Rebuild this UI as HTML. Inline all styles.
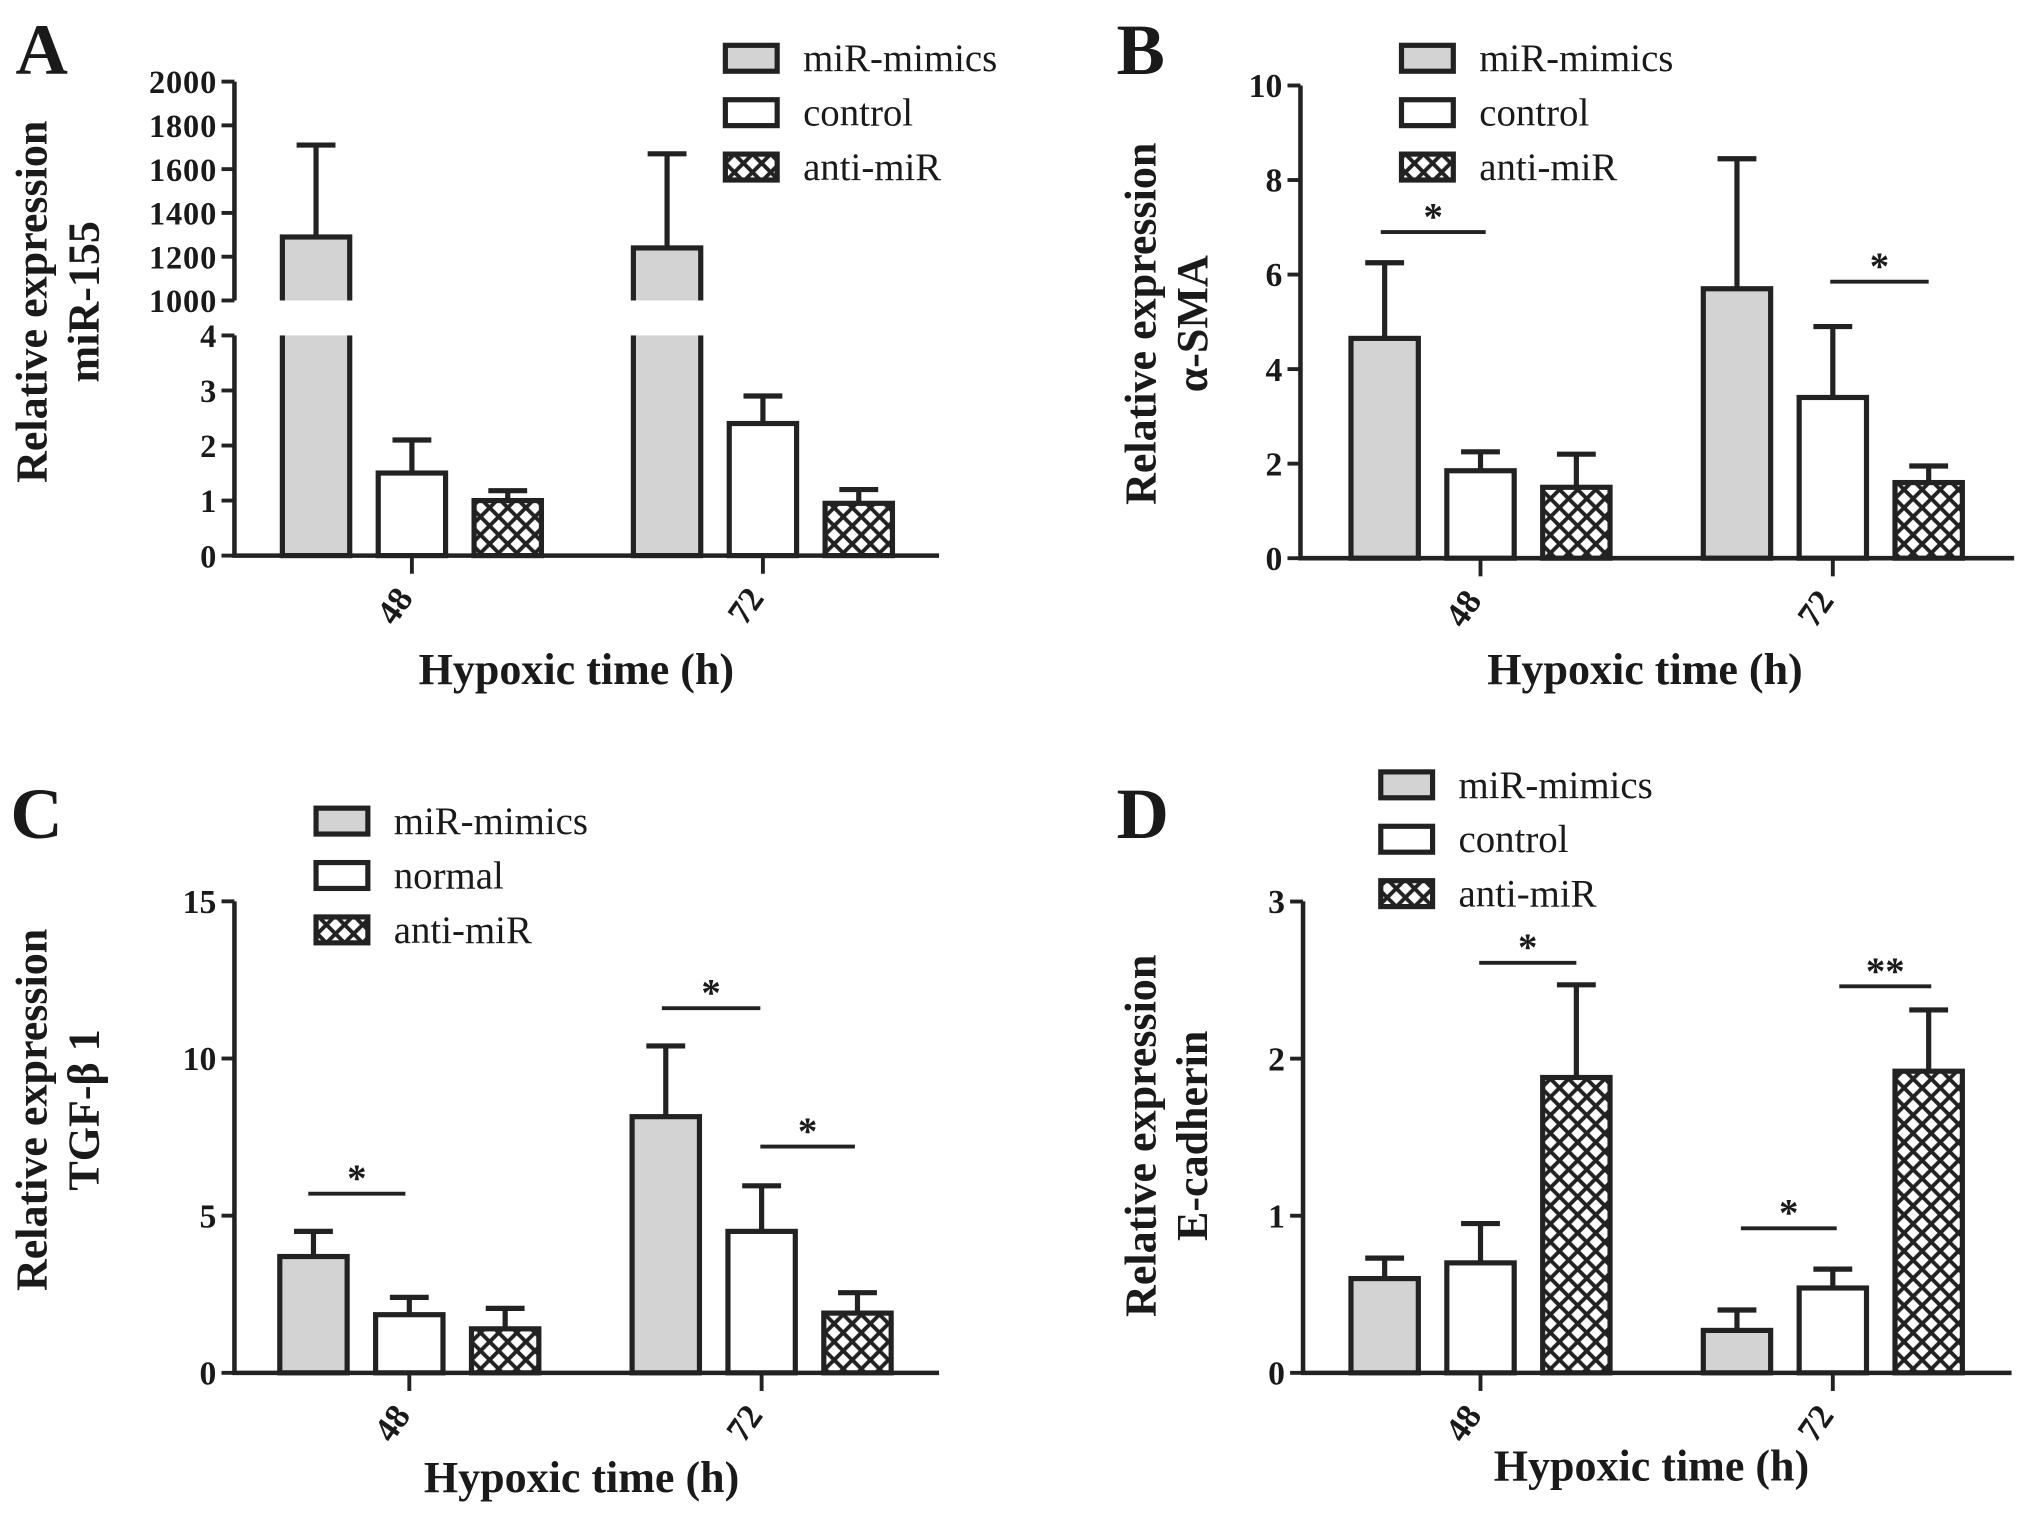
<!DOCTYPE html>
<html><head><meta charset="utf-8"><style>
html,body{margin:0;padding:0;background:#fff;}
svg{display:block;}
text{font-family:"Liberation Serif",serif;fill:#1a1a1a;}
</style></head><body>
<svg id="fig" width="2031" height="1514" viewBox="0 0 1568 1169" preserveAspectRatio="none" xmlns="http://www.w3.org/2000/svg">
<defs>
<pattern id="hatch" patternUnits="userSpaceOnUse" width="14" height="14">
<rect width="14" height="14" fill="#fff"/>
<path d="M0,0 L14,14 M14,0 L0,14 M-7,7 L7,21 M7,-7 L21,7 M21,7 L7,21 M7,-7 L-7,7" stroke="#222" stroke-width="3"/>
</pattern>
</defs>
</svg>
<script>
const categories = ["48", "72"];
const seriesNames = ["miR-mimics", "control", "anti-miR"];
const seriesNamesC = ["miR-mimics", "normal", "anti-miR"];
const aMeans = [[1290, 1.5, 1.0], [1240, 2.4, 0.95]];
const aErrs = [[1710, 2.1, 1.18], [1670, 2.9, 1.2]];
const aTicksHigh = [1000, 1200, 1400, 1600, 1800, 2000];
const aTicksLow = [0, 1, 2, 3, 4];
const bMeans = [[4.65, 1.85, 1.5], [5.7, 3.4, 1.6]];
const bErrs = [[6.25, 2.25, 2.2], [8.45, 4.9, 1.95]];
const bTicks = [0, 2, 4, 6, 8, 10];
const cMeans = [[3.7, 1.85, 1.4], [8.15, 4.5, 1.9]];
const cErrs = [[4.5, 2.4, 2.05], [10.4, 5.95, 2.55]];
const cTicks = [0, 5, 10, 15];
const dMeans = [[0.6, 0.7, 1.88], [0.27, 0.54, 1.92]];
const dErrs = [[0.73, 0.95, 2.47], [0.4, 0.66, 2.31]];
const dTicks = [0, 1, 2, 3];

const svg = document.getElementById('fig');
const NS = 'http://www.w3.org/2000/svg';
function mk(tag, attrs, parent) {
  const e = document.createElementNS(NS, tag);
  for (const k in attrs) e.setAttribute(k, attrs[k]);
  (parent || svg).appendChild(e);
  return e;
}
const fills = ['#d3d3d3', '#fff', 'url(#hatch)'];
const offs = [-74, 0, 74];
const BW = 52;

function panel(p) {
  const g = mk('g', {});
  
  
  const L = mk('text', {x: p.lx, y: p.ly, 'font-size': 56, 'font-weight': 'bold'}, g);
  L.textContent = p.letter;
  
  
  categories.forEach((c, ci) => {
    const cx = p.xc[ci];
    p.means[ci].forEach((m, si) => {
      const x = cx + offs[si] - BW / 2;
      const top = p.y(m), bot = p.y(0);
      const eb = mk('path', {d: `M${x + BW / 2},${top} V${p.y(p.errs[ci][si])} M${x + BW / 2 - 15},${p.y(p.errs[ci][si])} H${x + BW / 2 + 15}`, stroke: '#222', 'stroke-width': 4, fill: 'none'}, g);
      
      
      const r = mk('rect', {x: x, y: top, width: BW, height: bot - top, fill: fills[si], stroke: '#222', 'stroke-width': 4}, g);
      
      
    });
    mk('path', {d: `M${cx},${p.y0} v14`, stroke: '#222', 'stroke-width': 3}, g);
    const tl = mk('text', {x: 0, y: 0, 'font-size': 27, 'font-weight': 'bold', 'text-anchor': 'middle', transform: `translate(${cx - 6},${p.y0 + 44}) rotate(-55)`, 'font-family': p.sans ? 'Liberation Sans, sans-serif' : 'Liberation Serif, serif'}, g);
    tl.textContent = c;
    
    
  });
  if (p.gap) {
    mk('rect', {x: p.ax - 2, y: p.gap[0], width: p.xEnd - p.ax, height: p.gap[1] - p.gap[0], fill: '#fff'}, g);
  }
  const axd = p.gap ? `M${p.ax},${p.yTop} V${p.gap[0]} M${p.ax},${p.gap[1]} V${p.y0} H${p.xEnd}` : `M${p.ax},${p.yTop} V${p.y0} H${p.xEnd}`;
  const ax = mk('path', {d: axd, stroke: '#222', 'stroke-width': 3.5, fill: 'none'}, g);
  
  
  p.ticks.forEach(v => {
    const yy = p.y(v);
    mk('path', {d: `M${p.ax - 10},${yy} H${p.ax}`, stroke: '#222', 'stroke-width': 3}, g);
    const tt = mk('text', {x: p.ax - 14, y: yy + 9, 'font-size': p.sans ? 25 : 26, 'font-weight': 'bold', 'text-anchor': 'end', 'font-family': p.sans ? 'Liberation Sans, sans-serif' : 'Liberation Serif, serif'}, g);
    if (p.sans) tt.setAttribute('textLength', String(v).length * 13);
    tt.textContent = v;
    
    
  });
  (p.sig || []).forEach(s => {
    const yy = p.y(s[2]);
    mk('path', {d: `M${s[0]},${yy} H${s[1]}`, stroke: '#222', 'stroke-width': 3}, g);
    const st = mk('text', {x: (s[0] + s[1]) / 2, y: yy - 2, 'font-size': 30, 'font-weight': 'bold', 'text-anchor': 'middle'}, g);
    st.textContent = s[3];
    
    
  });
  p.names.forEach((n, i) => {
    const yy = p.legY + i * 42;
    const b = mk('rect', {x: p.legX, y: yy - 10, width: 40, height: 20, fill: fills[i], stroke: '#222', 'stroke-width': 4}, g);
    
    
    const lt = mk('text', {x: p.legX + 60, y: yy + 10, 'font-size': 30}, g);
    lt.textContent = n;
    
    
  });
  const xt = mk('text', {x: p.xtX, y: p.xtY, 'font-size': 34, 'font-weight': 'bold', 'text-anchor': 'middle'}, g);
  xt.textContent = 'Hypoxic time (h)';
  
  
  const y1 = mk('text', {x: 0, y: 0, 'font-size': 34, 'font-weight': 'bold', 'text-anchor': 'middle', transform: `translate(${p.ytX},${p.ytY}) rotate(-90)`}, g);
  y1.textContent = 'Relative expression';
  
  
  const y2 = mk('text', {x: 0, y: 0, 'font-size': 34, 'font-weight': 'bold', 'text-anchor': 'middle', transform: `translate(${p.ytX + 40},${p.ytY}) rotate(-90)`}, g);
  y2.textContent = p.gene;
  
  
}

function yA(v) { return v >= 1000 ? 232 - (v - 1000) / 1000 * 169 : 429 - v * 42.5; }
panel({letter: 'A', lx: 12, ly: 57, ax: 181, xEnd: 725, y0: 429, yTop: 63, y: yA, gap: [232, 259], sans: true,
  xc: [318, 589], means: aMeans, errs: aErrs, ticks: aTicksHigh.concat(aTicksLow), names: seriesNames,
  legX: 560, legY: 45, xtX: 445, xtY: 528, ytX: 36, ytY: 233, gene: 'miR-155'});
panel({letter: 'B', lx: 862, ly: 57, ax: 1004, xEnd: 1555, y0: 431, yTop: 66, y: v => 431 - v * 36.5,
  xc: [1143, 1415], means: bMeans, errs: bErrs, ticks: bTicks, names: seriesNames,
  sig: [[1066, 1147, 6.9, '*'], [1413, 1489, 5.85, '*']],
  legX: 1082, legY: 45, xtX: 1270, xtY: 528, ytX: 892, ytY: 250, gene: 'α-SMA'});
panel({letter: 'C', lx: 8, ly: 647, ax: 181, xEnd: 725, y0: 1060, yTop: 696, y: v => 1060 - v * 24.27,
  xc: [316, 588], means: cMeans, errs: cErrs, ticks: cTicks, names: seriesNamesC,
  sig: [[238, 313, 5.7, '*'], [511, 587, 11.6, '*'], [587, 660, 7.2, '*']],
  legX: 244, legY: 634, xtX: 449, xtY: 1152, ytX: 36, ytY: 857, gene: 'TGF-β 1'});
panel({letter: 'D', lx: 862, ly: 647, ax: 1006, xEnd: 1553, y0: 1060, yTop: 696, y: v => 1060 - v * 121.3,
  xc: [1143, 1415], means: dMeans, errs: dErrs, ticks: dTicks, names: seriesNames,
  sig: [[1142, 1217, 2.61, '*'], [1420, 1491, 2.46, '**'], [1344, 1418, 0.92, '*']],
  legX: 1066, legY: 606, xtX: 1275, xtY: 1143, ytX: 892, ytY: 877, gene: 'E-cadherin'});
</script>
</body></html>
